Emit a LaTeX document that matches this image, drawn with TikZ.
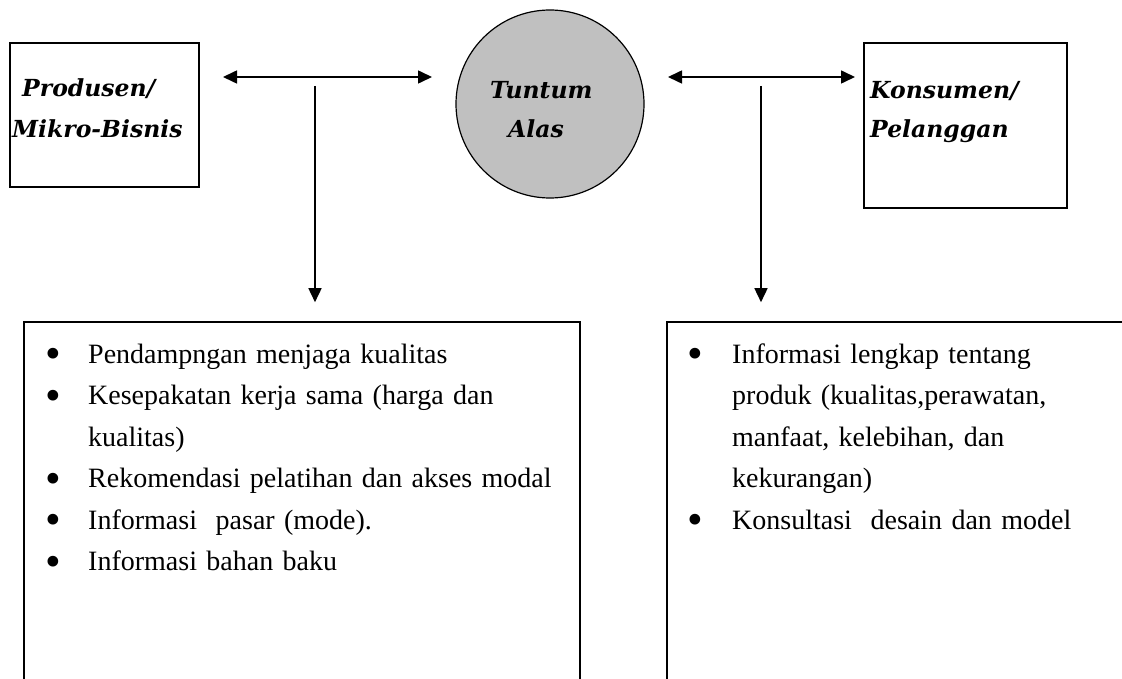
\documentclass[tikz,border=0pt]{standalone}
\usepackage{fontspec}
\setmainfont{Liberation Serif}
\newfontfamily\headfont{DejaVu Serif}
\usetikzlibrary{arrows.meta}
\definecolor{circgray}{RGB}{192,192,192}
\newcommand{\bigbul}{\raisebox{-5.5pt}{\scalebox{1.6}{\textbullet}}}
\newcommand{\bulitem}[1][41pt]{\makebox[#1][l]{\hspace*{-2pt}\bigbul}}
\begin{document}
\begin{tikzpicture}[x=1pt,y=-1pt,
  box/.style={draw, line width=1.6pt, inner sep=0pt},
  headtxt/.style={anchor=base west, inner sep=0pt, font=\headfont\bfseries\itshape\fontsize{23.5}{28}\selectfont},
  listtxt/.style={anchor=base west, inner sep=0pt, align=left, text width=540pt, font=\fontsize{28}{41.5}\selectfont},
  conn/.style={line width=1.6pt, -{Triangle[length=14pt,width=13pt]}},
  dconn/.style={line width=1.6pt, {Triangle[length=14pt,width=13pt]}-{Triangle[length=14pt,width=13pt]}},
]
\useasboundingbox (0,0) rectangle (1122,679);

% top boxes and circle
\node[box, minimum width=189pt, minimum height=144pt] (prod) at (104.5,115) {};
\node[circle, draw, fill=circgray, line width=1.2pt, minimum size=188pt, inner sep=0pt] (ta) at (550,104) {};
\node[box, minimum width=203pt, minimum height=165pt] (kons) at (965.5,125.5) {};

% bottom boxes
\node[box, minimum width=556pt, minimum height=398pt] (lbox) at (302,521) {};
\node[box, minimum width=493pt, minimum height=398pt] (rbox) at (913.5,521) {};

% heading texts
\node[headtxt] (prodA) at (22,97) {Produsen/};
\node[headtxt] (prodB) at (12,138) {Mikro-Bisnis};
\node[headtxt] (taA) at (490,99) {Tuntum};
\node[headtxt] (taB) at (508,138) {Alas};
\node[headtxt] (konA) at (870,99) {Konsumen/};
\node[headtxt] (konB) at (870,138) {Pelanggan};

% connectors
\coordinate (a1) at (223,77);
\coordinate (a2) at (432,77);
\coordinate (a3) at (668,77);
\coordinate (a4) at (855,77);
\coordinate (v1) at (315,86);
\coordinate (v2) at (761,86);
\draw[dconn] (a1) -- (a2);
\draw[dconn] (a3) -- (a4);
\draw[conn, shorten >=19pt] (v1) -- (v1 |- lbox.north);
\draw[conn, shorten >=19pt] (v2) -- (v2 |- rbox.north);

% lists
\node[listtxt] (llist) at (47,363) {%
\bulitem Pendampngan menjaga kualitas\\
\bulitem Kesepakatan kerja sama (harga dan\\
\hspace*{41pt}kualitas)\\
\bulitem Rekomendasi pelatihan dan akses modal\\
\bulitem Informasi\ \ pasar (mode).\\
\bulitem Informasi bahan baku};
\node[listtxt, text width=440pt] (rlist) at (689,363) {%
\bulitem[43pt]Informasi lengkap tentang\\
\hspace*{43pt}produk (kualitas,perawatan,\\
\hspace*{43pt}manfaat, kelebihan, dan\\
\hspace*{43pt}kekurangan)\\
\bulitem[43pt]Konsultasi\ \ desain dan model};
\end{tikzpicture}
\end{document}
